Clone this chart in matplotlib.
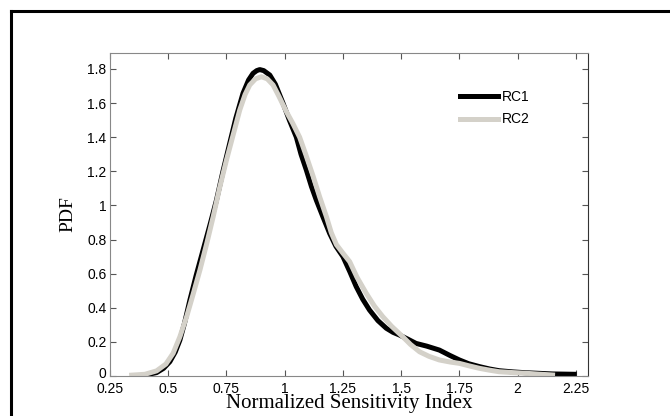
import matplotlib
matplotlib.use('Agg')
import matplotlib.pyplot as plt
from matplotlib.lines import Line2D
from matplotlib.transforms import ScaledTranslation

# values
rc1_x = [0.35, 0.40, 0.45, 0.48, 0.507, 0.53, 0.55, 0.57, 0.593, 0.62, 0.65,
         0.68, 0.707, 0.735, 0.764, 0.79, 0.821, 0.845, 0.864, 0.88, 0.893,
         0.91, 0.936, 0.96, 0.993, 1.02, 1.05, 1.07, 1.093, 1.115, 1.136,
         1.165, 1.193, 1.22, 1.25, 1.28, 1.307, 1.335, 1.364, 1.40, 1.436,
         1.465, 1.493, 1.53, 1.564, 1.61, 1.664, 1.71, 1.75, 1.79, 1.836,
         1.88, 1.921, 1.98, 2.036, 2.15, 2.243]
rc1_y = [0.0, 0.005, 0.02, 0.045, 0.084, 0.14, 0.21, 0.31, 0.445, 0.59, 0.74,
         0.89, 1.03, 1.20, 1.364, 1.51, 1.657, 1.735, 1.774, 1.79, 1.796,
         1.79, 1.764, 1.71, 1.598, 1.50, 1.40, 1.30, 1.207, 1.11, 1.03,
         0.93, 0.836, 0.76, 0.70, 0.61, 0.524, 0.45, 0.387, 0.325, 0.28,
         0.256, 0.24, 0.215, 0.191, 0.175, 0.152, 0.12, 0.094, 0.072, 0.055,
         0.041, 0.031, 0.024, 0.019, 0.012, 0.01]

rc2_x = [0.343, 0.40, 0.45, 0.49, 0.521, 0.55, 0.579, 0.607, 0.636, 0.665,
         0.693, 0.72, 0.75, 0.78, 0.807, 0.83, 0.85, 0.875, 0.90, 0.925, 0.95,
         0.975, 1.007, 1.035, 1.064, 1.09, 1.121, 1.15, 1.179, 1.20, 1.222,
         1.25, 1.279, 1.31, 1.35, 1.385, 1.421, 1.46, 1.507, 1.54, 1.579,
         1.62, 1.664, 1.71, 1.75, 1.79, 1.836, 1.88, 1.921, 1.98, 2.036,
         2.09, 2.15]
rc2_y = [0.005, 0.01, 0.03, 0.07, 0.133, 0.23, 0.348, 0.48, 0.621, 0.775,
         0.934, 1.10, 1.266, 1.42, 1.559, 1.65, 1.706, 1.742, 1.754, 1.742, 1.706,
         1.64, 1.55, 1.48, 1.40, 1.30, 1.175, 1.05, 0.934, 0.84, 0.77,
         0.72, 0.67, 0.58, 0.485, 0.41, 0.348, 0.29, 0.23, 0.185, 0.142,
         0.115, 0.094, 0.082, 0.074, 0.06, 0.045, 0.034, 0.025, 0.02, 0.016,
         0.011, 0.006]

x_ticks = [0.25, 0.5, 0.75, 1, 1.25, 1.5, 1.75, 2, 2.25]
x_tick_labels = ['0.25', '0.5', '0.75', '1', '1.25', '1.5', '1.75', '2', '2.25']
y_ticks = [0, 0.2, 0.4, 0.6, 0.8, 1.0, 1.2, 1.4, 1.6, 1.8]
y_tick_labels = ['0', '0.2', '0.4', '0.6', '0.8', '1', '1.2', '1.4', '1.6', '1.8']

GREY = '#d4d1c9'

fig = plt.figure(figsize=(6.7, 4.16), dpi=100)
ax = fig.add_axes([110 / 670, 1 - 376 / 416, 477.5 / 670, 323.3 / 416])

ax.plot(rc1_x, rc1_y, color='black', lw=3.6, solid_joinstyle='round', label='RC1')
ax.plot(rc2_x, rc2_y, color=GREY, lw=3.6, solid_joinstyle='round', label='RC2')

ax.set_xlim(0.25, 2.3)
ax.set_ylim(0, 1.895)
ax.set_xticks(x_ticks)
ax.set_xticklabels(x_tick_labels, family='Liberation Sans', fontsize=10)
ax.set_yticks(y_ticks)
ax.set_yticklabels(y_tick_labels, family='Liberation Sans', fontsize=10)
ax.tick_params(direction='in', length=4, width=0.8, color='#555555',
               top=True, right=True)
ax.tick_params(axis='x', pad=4.2)
ax.tick_params(axis='y', pad=2.5)
for side in ['left', 'bottom', 'top']:
    ax.spines[side].set_color('#888888')
ax.spines['right'].set_color('#333333')

# lift the "0" label a touch so it clears "0.25" underneath
zero_label = ax.get_yticklabels()[0]
zero_label.set_transform(zero_label.get_transform()
                         + ScaledTranslation(0, 2.5 / 72, fig.dpi_scale_trans))

ax.set_xlabel('Normalized Sensitivity Index', family='Liberation Serif',
              fontsize=15, labelpad=-1)
ax.set_ylabel('PDF', family='Liberation Serif', fontsize=14, labelpad=8)

ax.legend(loc='upper left', bbox_to_anchor=(0.733, 0.885), frameon=False,
          prop={'family': 'Liberation Sans', 'size': 10},
          handlelength=2.75, handletextpad=0.3, borderaxespad=0, borderpad=0,
          labelspacing=0.62)

# outer frame, only its top and left edges fall inside the picture
fig.add_artist(Line2D([11 / 670, 11 / 670], [0, 1 - 10.7 / 416],
                      transform=fig.transFigure, color='black', lw=2.2))
fig.add_artist(Line2D([11 / 670, 1], [1 - 10.7 / 416, 1 - 10.7 / 416],
                      transform=fig.transFigure, color='black', lw=2.2))

fig.savefig('out.png', dpi=100)
